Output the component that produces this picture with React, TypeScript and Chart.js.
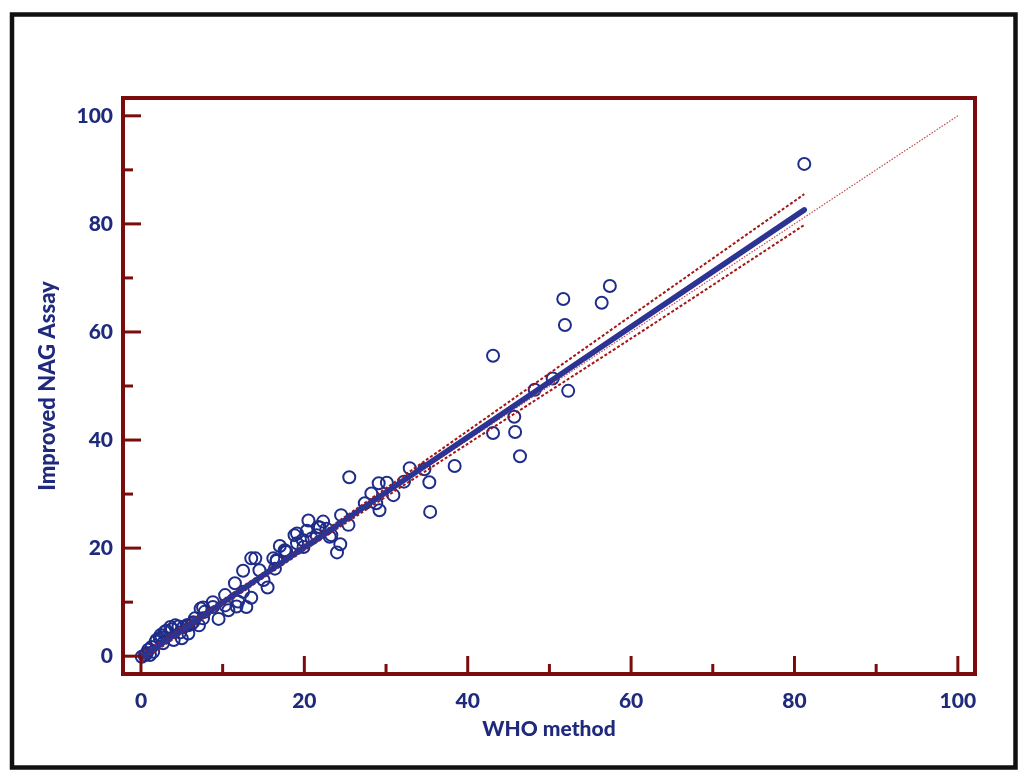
import React, { useEffect, useRef } from 'react';
import { Chart, registerables } from 'chart.js';

Chart.register(...registerables);

// WHO method (x) vs Improved NAG Assay (y)
const whoX = [
  81.2, 57.4, 56.4, 51.7, 51.9, 52.3, 50.4, 48.2, 43.1, 43.1, 45.7, 45.8, 46.4, 38.4, 35.3, 35.4,
  34.7, 32.9, 32.2, 30.9, 30.1, 29.1, 28.2, 27.4, 28.8, 29.2, 25.5, 24.5, 25.4, 24.4, 24.0, 23.3,
  22.3, 21.9, 20.5, 20.3, 19.1, 20.9, 19.1, 17.0, 17.7, 16.2, 16.4, 14.0, 13.5, 14.5, 12.5, 11.5,
  15.0, 15.5, 13.5, 12.5, 10.3, 10.3, 8.8, 7.6, 7.8, 9.5, 11.7, 6.6, 6.2, 5.2, 4.6, 3.8,
  3.1, 4.8, 5.8, 5.0, 4.0, 2.5, 1.9, 2.7, 1.3, 0.9, 0.5, 1.5, 0.1, 1.1, 5.8, 7.6,
  16.6, 17.8, 18.8, 19.9, 23.1, 21.7, 2.3, 2.9,
  0.7, 1.8, 2.4, 3.6, 4.2, 5.6, 7.1, 7.3, 6.4,
  17.6, 16.6, 21.5, 22.7, 19.8, 10.7, 12.9, 8.8, 11.9,
];
const nagY = [
  91.1, 68.5, 65.4, 66.1, 61.3, 49.1, 51.4, 49.3, 55.6, 41.3, 44.3, 41.5, 37.0, 35.2, 32.2, 26.7,
  34.6, 34.8, 32.3, 29.8, 32.1, 32.0, 30.1, 28.3, 28.3, 27.0, 33.1, 26.1, 24.3, 20.7, 19.2, 22.4,
  24.9, 23.8, 25.1, 23.2, 22.7, 21.8, 20.9, 20.4, 19.4, 18.1, 16.2, 18.1, 18.1, 15.9, 15.8, 13.5,
  14.1, 12.7, 10.8, 11.9, 11.3, 9.4, 10.0, 9.0, 8.2, 6.9, 9.2, 7.0, 6.0, 5.4, 5.5, 5.0,
  4.7, 4.4, 4.2, 3.3, 3.0, 3.5, 3.0, 2.4, 1.7, 1.2, 0.2, 0.8, -0.1, 0.2, 5.7, 7.0,
  17.6, 19.3, 22.4, 20.2, 22.1, 23.9, 3.3, 4.5,
  0.6, 2.7, 3.9, 5.4, 5.7, 5.7, 5.7, 8.8, 6.3,
  19.6, 17.8, 22.4, 23.6, 21.5, 8.5, 9.1, 9.1, 10.1,
];

// regression line
const fitX = [0, 81.2];
const fitY = [-0.3, 82.6];
// 95% confidence band
const bandX = [0, 20, 40, 60, 81.2];
const upperY = [0.3, 20.6, 41.7, 63.0, 85.5];
const lowerY = [-0.9, 19.6, 39.3, 58.8, 79.8];
// line of identity
const identityX = [0, 100];
const identityY = [0, 100];

const tickValues = [0, 10, 20, 30, 40, 50, 60, 70, 80, 90, 100];

const NAVY = '#1f2a7c';
const POINT = '#1f2d8a';
const FIT = '#2c3493';
const BOX = '#7a0c0c';
const BAND = '#a31616';
const IDENT = '#c4474a';
const FONT = 'Lato, "Open Sans", sans-serif';

const pairs = (xs: number[], ys: number[]) => xs.map((x, i) => ({ x, y: ys[i] }));

const framePlugin = {
  id: 'framePlugin',
  afterDatasetsDraw(chart: any) {
    const { ctx, chartArea: a, scales } = chart;
    const xs = scales.x;
    const ys = scales.y;
    ctx.save();
    ctx.strokeStyle = BOX;
    ctx.lineCap = 'butt';
    ctx.lineWidth = 3;
    tickValues.forEach((v) => {
      const len = v % 20 === 0 ? 18 : 10;
      const px = xs.getPixelForValue(v);
      ctx.beginPath();
      ctx.moveTo(px, a.bottom);
      ctx.lineTo(px, a.bottom - len);
      ctx.stroke();
      const py = ys.getPixelForValue(v);
      ctx.beginPath();
      ctx.moveTo(a.left, py);
      ctx.lineTo(a.left + len, py);
      ctx.stroke();
    });
    ctx.lineWidth = 4;
    ctx.strokeRect(a.left, a.top, a.right - a.left, a.bottom - a.top);
    // outer picture border
    ctx.strokeStyle = '#111111';
    ctx.lineWidth = 4.5;
    ctx.strokeRect(12, 14.5, 1003.5, 753);
    ctx.restore();
  },
};

export default function App() {
  const ref = useRef<HTMLCanvasElement | null>(null);

  useEffect(() => {
    if (!ref.current) return;
    const chart = new Chart(ref.current, {
      type: 'scatter',
      data: {
        datasets: [
          {
            label: 'Identity',
            data: pairs(identityX, identityY),
            showLine: true,
            borderColor: IDENT,
            borderWidth: 1.2,
            borderDash: [1.5, 1.5],
            pointRadius: 0,
            order: 1,
          },
          {
            label: 'Upper 95% CI',
            data: pairs(bandX, upperY),
            showLine: true,
            borderColor: BAND,
            borderWidth: 2,
            borderDash: [3, 2],
            pointRadius: 0,
            tension: 0.3,
            order: 2,
          },
          {
            label: 'Lower 95% CI',
            data: pairs(bandX, lowerY),
            showLine: true,
            borderColor: BAND,
            borderWidth: 2,
            borderDash: [3, 2],
            pointRadius: 0,
            tension: 0.3,
            order: 3,
          },
          {
            label: 'Regression',
            data: pairs(fitX, fitY),
            showLine: true,
            borderColor: FIT,
            borderWidth: 5.5,
            borderCapStyle: 'round',
            pointRadius: 0,
            order: 0,
          },
          {
            label: 'Samples',
            data: pairs(whoX, nagY),
            pointRadius: 6,
            pointHoverRadius: 6,
            pointBorderWidth: 2,
            pointBorderColor: POINT,
            pointBackgroundColor: 'rgba(0,0,0,0)',
            showLine: false,
            order: 10,
          },
        ],
      },
      options: {
        animation: false,
        responsive: false,
        devicePixelRatio: 1,
        layout: { padding: { left: 0, right: 49, top: 98, bottom: 0 } },
        plugins: { legend: { display: false }, tooltip: { enabled: false } },
        scales: {
          x: {
            type: 'linear',
            min: -2.2,
            max: 102.1,
            grid: { display: false, drawTicks: false },
            border: { display: false },
            afterBuildTicks: (s: any) => {
              s.ticks = tickValues.map((v) => ({ value: v }));
            },
            afterFit: (s: any) => {
              s.height = 107;
            },
            ticks: {
              autoSkip: false,
              maxRotation: 0,
              padding: 15,
              color: NAVY,
              font: { family: FONT, size: 21, weight: '900' },
              callback: (v: any) => (Number(v) % 20 === 0 ? String(v) : ''),
            },
            title: {
              display: true,
              text: 'WHO method',
              color: NAVY,
              font: { family: FONT, size: 21, weight: '900' },
              padding: { top: 0, bottom: 39 },
            },
          },
          y: {
            type: 'linear',
            min: -3.3,
            max: 103.3,
            grid: { display: false, drawTicks: false },
            border: { display: false },
            afterBuildTicks: (s: any) => {
              s.ticks = tickValues.map((v) => ({ value: v }));
            },
            afterFit: (s: any) => {
              s.width = 123;
            },
            ticks: {
              autoSkip: false,
              padding: 10,
              color: NAVY,
              font: { family: FONT, size: 21, weight: '900' },
              callback: (v: any) => (Number(v) % 20 === 0 ? String(v) : ''),
            },
            title: {
              display: true,
              text: 'Improved NAG Assay',
              color: NAVY,
              font: { family: FONT, size: 22, weight: '900' },
              padding: { top: 35, bottom: 0 },
            },
          },
        },
      },
      plugins: [framePlugin],
    } as any);
    return () => chart.destroy();
  }, []);

  return (
    <div style={{ position: 'fixed', left: 0, top: 0, width: 1024, height: 781, background: '#ffffff' }}>
      <canvas ref={ref} width={1024} height={781} style={{ display: 'block', width: 1024, height: 781 }} />
    </div>
  );
}
